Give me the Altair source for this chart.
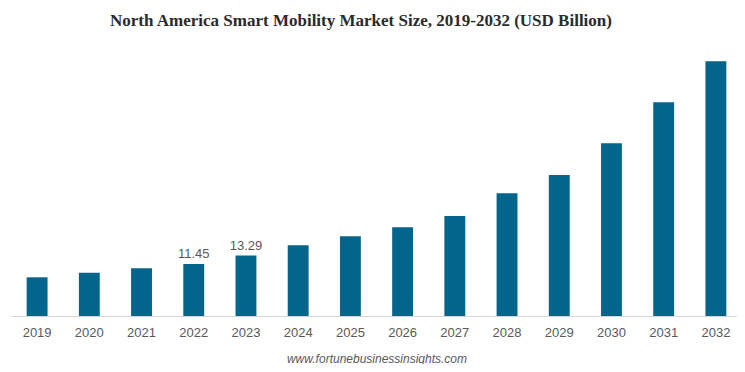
import altair as alt
import pandas as pd

years = ["2019", "2020", "2021", "2022", "2023", "2024", "2025", "2026",
         "2027", "2028", "2029", "2030", "2031", "2032"]
values = [8.5, 9.52, 10.48, 11.45, 13.29, 15.54, 17.52, 19.49,
          21.98, 26.97, 30.99, 37.95, 46.97, 55.98]
labels = ["", "", "", "11.45", "13.29", "", "", "", "", "", "", "", "", ""]

df = pd.DataFrame({"year": years, "value": values, "label": labels})

x = alt.X("year:N", sort=years,
          scale=alt.Scale(paddingInner=0.6, paddingOuter=0.3, range=[0, 731]),
          axis=alt.Axis(title="www.fortunebusinessinsights.com", labelAngle=0,
                        ticks=False, labelPadding=10, labelFontSize=13,
                        labelColor="#595959", labelFont="Liberation Sans",
                        domainColor="#d9d9d9", domainWidth=1,
                        titleFont="Liberation Sans", titleFontSize=12,
                        titleFontStyle="italic", titleFontWeight="normal",
                        titleColor="#595959", titleBaseline="alphabetic",
                        titleY=46))
y = alt.Y("value:Q", scale=alt.Scale(domain=[0, 60], nice=False), axis=None)

bars = alt.Chart(df).mark_bar(color="#04658C").encode(x=x, y=y)
text = alt.Chart(df).mark_text(baseline="alphabetic", dy=-6, fontSize=13,
                               font="Liberation Sans", color="#595959").encode(
    x=alt.X("year:N", sort=years), y="value:Q", text="label:N")

chart = (bars + text).properties(
    width=726, height=273,
    autosize=alt.AutoSizeParams(type="none"),
    padding={"left": 3, "top": 35, "right": 0, "bottom": 48},
    title=alt.TitleParams(
        "North America Smart Mobility Market Size, 2019-2032 (USD Billion)",
        font="Liberation Serif", fontSize=17, fontWeight="bold",
        color="#2b2b2b", anchor="middle", dx=-13, baseline="alphabetic",
        offset=0),
).configure_view(stroke=None)

chart.save("out.html", embed_options={"renderer": "svg", "actions": False})
